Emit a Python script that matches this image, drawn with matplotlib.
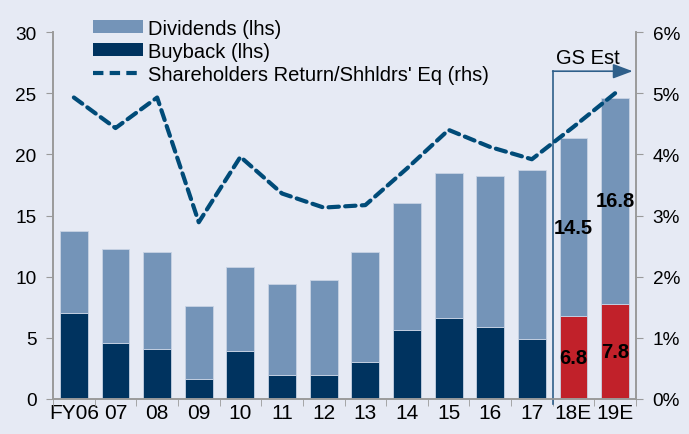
import matplotlib
matplotlib.use("Agg")
from matplotlib import pyplot as plt
from matplotlib.patches import Patch
from matplotlib.lines import Line2D
import numpy as np

plt.rcParams['font.family'] = ['Liberation Sans', 'DejaVu Sans']

years = ['FY06', '07', '08', '09', '10', '11', '12', '13', '14', '15', '16', '17', '18E', '19E']
buyback = [7.0, 4.6, 4.1, 1.6, 3.9, 2.0, 2.0, 3.0, 5.6, 6.6, 5.9, 4.9, 6.8, 7.8]
dividends = [6.7, 7.7, 7.9, 6.0, 6.9, 7.4, 7.7, 9.0, 10.4, 11.9, 12.3, 13.8, 14.5, 16.8]
ret_pct = [4.93, 4.43, 4.93, 2.89, 3.96, 3.36, 3.13, 3.17, 3.77, 4.40, 4.12, 3.92, 4.45, 5.00]

bg = '#E6EAF4'
c_div = '#7494B8'
c_buy = '#00335F'
c_est = '#C1212A'
c_line = '#004B78'
c_spine = '#9A9A9A'

x = np.arange(len(years))
est = [y.endswith('E') for y in years]
buy_colors = [c_est if e else c_buy for e in est]

fig = plt.figure(figsize=(6.89, 4.35), dpi=100, facecolor=bg)
ax = fig.add_axes([0.077, 0.0805, 0.846, 0.8435], facecolor=bg)
ax2 = ax.twinx()

ax.bar(x, buyback, width=0.67, color=buy_colors, edgecolor='#C8D3E4', linewidth=0.6, zorder=2)
ax.bar(x, dividends, bottom=buyback, width=0.67, color=c_div, edgecolor='#C8D3E4', linewidth=0.6, zorder=2)
ax2.plot(x, ret_pct, color=c_line, lw=3, ls=(0, (2.5, 1.5)), dash_capstyle='round', zorder=3)

# value labels on estimates
for i in range(len(years)):
    if est[i]:
        ax.text(x[i], buyback[i] / 2, f'{buyback[i]:.1f}', ha='center', va='center',
                fontsize=14.5, fontweight='bold', color='black', zorder=4)
        ax.text(x[i], buyback[i] + dividends[i] / 2, f'{dividends[i]:.1f}', ha='center', va='center',
                fontsize=14.5, fontweight='bold', color='black', zorder=4)

ax.set_xlim(-0.5, len(years) - 0.5)
ax.set_ylim(0, 30)
ax2.set_ylim(0, 6)
ax.set_yticks(range(0, 31, 5))
ax2.set_yticks(range(0, 7))
ax2.set_yticklabels([f'{v}%' for v in range(0, 7)])

ax.set_xticks(x)
ax.set_xticklabels(years)
ax.set_xticks(np.arange(-0.5, len(years)), minor=True)
ax.tick_params(axis='x', which='major', length=0, labelsize=15, pad=3)
ax.tick_params(axis='x', which='minor', length=5, color=c_spine, direction='out')
ax.tick_params(axis='y', length=5, color=c_spine, labelsize=13.7, pad=7)
ax2.tick_params(axis='y', length=5, color=c_spine, labelsize=13.7, pad=7)

for a in (ax, ax2):
    a.spines['top'].set_visible(False)
    for s in ('left', 'right', 'bottom'):
        a.spines[s].set_color(c_spine)
        a.spines[s].set_linewidth(1.2)

# GS estimate marker
gx = len(years) - 2.5
ax.plot([gx, gx], [-0.4, 26.8], color='#2F5F8A', lw=1.2, clip_on=False, zorder=5)
ax.annotate('', xy=(13.42, 26.8), xytext=(gx, 26.8),
            arrowprops=dict(arrowstyle='-|>,head_length=1.2,head_width=0.45', color='#2F5F8A', lw=1.2,
                            shrinkA=0, shrinkB=0), zorder=5)
ax.text(12.35, 27.95, 'GS Est', ha='center', va='center', fontsize=14.5)

handles = [Patch(facecolor=c_div), Patch(facecolor=c_buy),
           Line2D([0], [0], color=c_line, lw=3, ls=(0, (2.5, 1.5)))]
labels = ['Dividends (lhs)', 'Buyback (lhs)', "Shareholders Return/Shhldrs' Eq (rhs)"]
ax2.legend(handles, labels, loc='upper left', bbox_to_anchor=(0.051, 1.064), frameon=False,
           fontsize=14.5, handlelength=2.5, handleheight=0.55, handletextpad=0.25,
           labelspacing=0.2, borderpad=0)

fig.savefig('out.png', dpi=100, facecolor=bg)
